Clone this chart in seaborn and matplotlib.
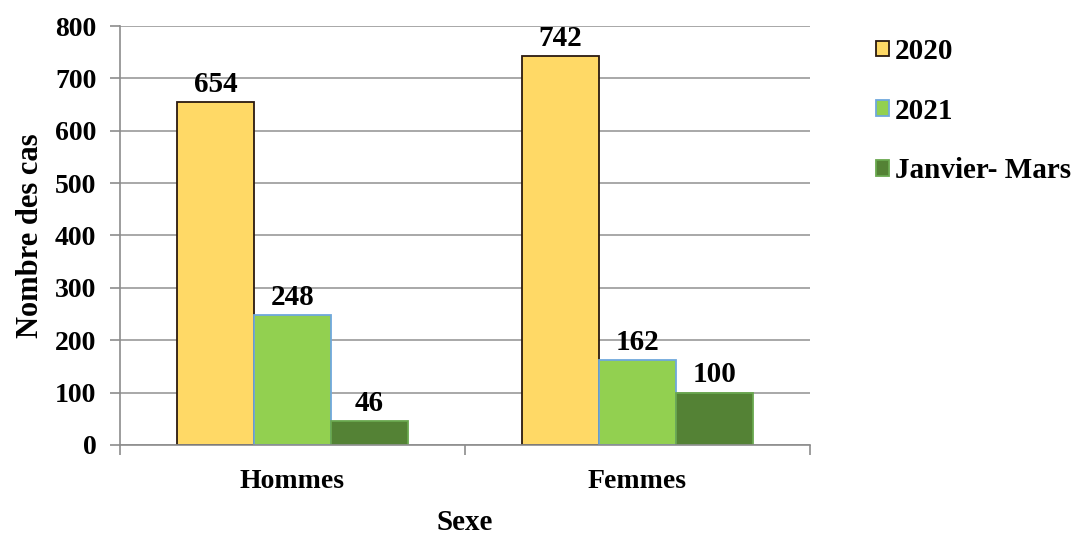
import matplotlib
matplotlib.use("Agg")
import matplotlib.pyplot as plt
import seaborn as sns
import pandas as pd
from matplotlib.patches import Patch

# Number of cases by sex and period
categories = ["Hommes", "Femmes"]
periods = ["2020", "2021", "Janvier- Mars"]
values_2020 = [654, 742]
values_2021 = [248, 162]
values_jan_mar = [46, 100]

fills = ["#FFD966", "#92D050", "#548235"]
edges = ["#2B1A10", "#6FA8DC", "#6AA84F"]

rows = []
for period, vals in zip(periods, [values_2020, values_2021, values_jan_mar]):
    for cat, v in zip(categories, vals):
        rows.append({"Sexe": cat, "Période": period, "Cas": v})
df = pd.DataFrame(rows)

sns.set_theme(style="white")
plt.rcParams["font.family"] = ["Liberation Serif", "DejaVu Serif"]
plt.rcParams["font.weight"] = "bold"
plt.rcParams["text.color"] = "black"

fig = plt.figure(figsize=(10.78, 5.34), dpi=100)
ax = fig.add_axes([0.1113, 0.1667, 0.6401, 0.7846])

sns.barplot(data=df, x="Sexe", y="Cas", hue="Période", order=categories,
            hue_order=periods, palette=fills, width=0.67, saturation=1,
            ax=ax, legend=False, errorbar=None)

for container, ec in zip(ax.containers, edges):
    for bar in container:
        bar.set_edgecolor(ec)
        bar.set_linewidth(1.3)
    ax.bar_label(container, fmt="%d", padding=3, fontsize=21,
                 fontweight="bold", color="black")

ax.set_ylim(0, 800)
ax.set_yticks(range(0, 801, 100))
ax.set_xlim(-0.5, 1.5)
ax.yaxis.grid(True, color="#9A9A9A", linewidth=1.2)
ax.set_axisbelow(True)

for side in ["top", "right"]:
    ax.spines[side].set_visible(False)
for side in ["left", "bottom"]:
    ax.spines[side].set_color("#8C8C8C")
    ax.spines[side].set_linewidth(1.2)

ax.set_xticks([0, 1])
ax.set_xticklabels(categories)
ax.tick_params(axis="x", which="major", length=0, pad=17, labelsize=20)
ax.set_xticks([-0.5, 0.5, 1.5], minor=True)
ax.tick_params(axis="x", which="minor", length=7, width=1.2, color="#8C8C8C",
               direction="out", bottom=True)
ax.tick_params(axis="y", length=7, width=1.2, color="#8C8C8C", left=True,
               direction="out", labelsize=20, pad=10)
for lbl in ax.get_xticklabels() + ax.get_yticklabels():
    lbl.set_fontweight("bold")
    lbl.set_color("black")

ax.set_xlabel("Sexe", fontsize=21, fontweight="bold", color="black", labelpad=11)
ax.set_ylabel("Nombre des cas", fontsize=22, fontweight="bold", color="black",
              labelpad=7)

handles = [Patch(facecolor=f, edgecolor=e, linewidth=1.3) for f, e in zip(fills, edges)]
leg = ax.legend(handles, periods, loc="upper left", bbox_to_anchor=(1.066, 1.02),
                frameon=False, handlelength=0.45, handleheight=0.45,
                handletextpad=0.2, labelspacing=1.12, borderaxespad=0.3,
                labelcolor="black",
                prop={"family": "Liberation Serif", "weight": "bold", "size": 21})

fig.savefig("out.png", dpi=100)
